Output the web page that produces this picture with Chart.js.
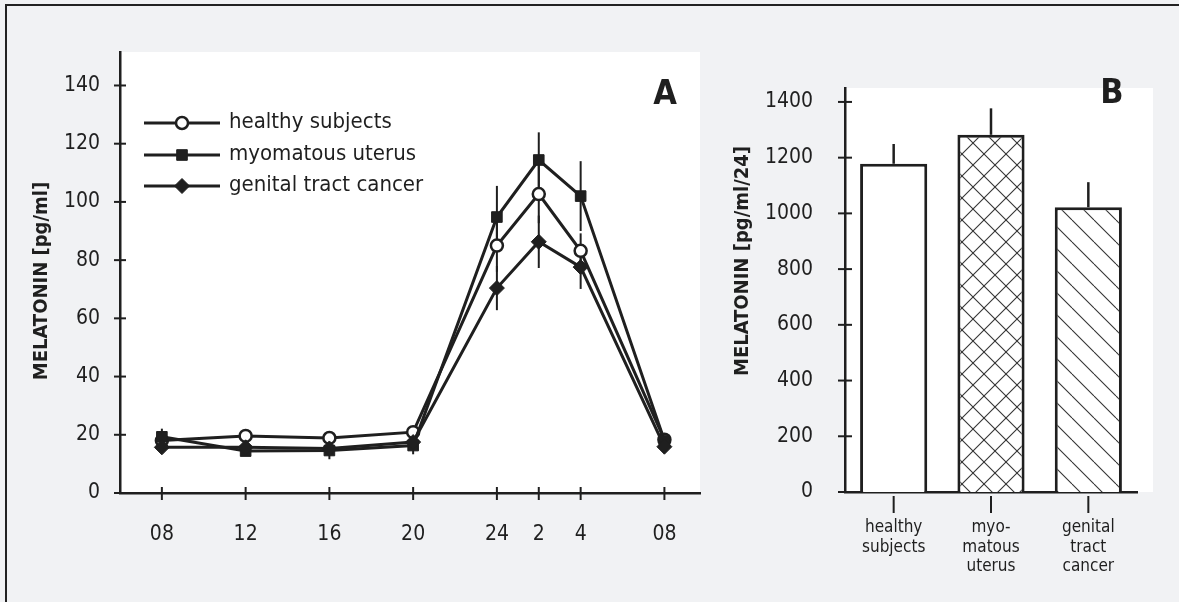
<!DOCTYPE html>
<html>
<head>
<meta charset="utf-8">
<script src="https://cdn.jsdelivr.net/npm/chart.js@4.4.1/dist/chart.umd.min.js"></script>
<style>
  html, body { margin: 0; padding: 0; background: #f1f2f4; overflow: hidden; }
  body { width: 1179px; height: 602px; position: relative; }
  #lineTop { position: absolute; left: 5px; top: 4px; width: 1174px; height: 2px; background: #222; }
  #lineLeft { position: absolute; left: 5px; top: 4px; width: 2px; height: 598px; background: #222; }
  #wrapA { position: absolute; left: 0; top: 0; width: 720px; height: 602px; }
  #wrapB { position: absolute; left: 720px; top: 0; width: 459px; height: 602px; }
</style>
</head>
<body>
<div id="lineTop"></div>
<div id="lineLeft"></div>
<div id="wrapA"><canvas id="chartA" width="720" height="602"></canvas></div>
<div id="wrapB"><canvas id="chartB" width="459" height="602"></canvas></div>
<script>
// ---- data, panel A (time course) ----
const hours = [8, 12, 16, 20, 24, 26, 28, 32];
const hourLabels = ['08', '12', '16', '20', '24', '2', '4', '08'];
const seriesNames = ['healthy subjects', 'myomatous uterus', 'genital tract cancer'];
const healthy = [18.0, 19.6, 18.9, 20.9, 85.0, 102.7, 83.2, 18.3];
const healthyErr = [1.5, 0, 0, 0, 9, 10, 6, 1];
const myomatous = [19.3, 14.4, 14.6, 16.3, 94.8, 114.4, 102.0, 18.0];
const myomatousErr = [2.8, 0, 3, 3, 10.7, 9.5, 12, 1];
const cancer = [15.7, 15.7, 15.3, 17.5, 70.4, 86.3, 77.6, 15.9];
const cancerErr = [0, 0, 0, 0, 7.6, 9, 7.5, 0];
const yTicksA = [0, 20, 40, 60, 80, 100, 120, 140];

// ---- data, panel B (24h totals) ----
const groups = [['healthy', 'subjects'], ['myo-', 'matous', 'uterus'], ['genital', 'tract', 'cancer']];
const totals = [1178, 1282, 1022];
const totalsErr = [71, 95, 90];
const yTicksB = [0, 200, 400, 600, 800, 1000, 1200, 1400];

const ink = '#1f1f1f';
const FONT = '"DejaVu Sans Condensed", "Liberation Sans Narrow", "DejaVu Sans", sans-serif';
Chart.defaults.font.family = FONT;
Chart.defaults.color = ink;
Chart.defaults.animation = false;

function makePattern(kind) {
  const c = document.createElement('canvas');
  c.width = 22; c.height = 22;
  const g = c.getContext('2d');
  g.fillStyle = '#fff';
  g.fillRect(0, 0, 22, 22);
  g.strokeStyle = '#333';
  g.lineWidth = 1.1;
  for (const k of [-22, 0, 22]) {
    g.beginPath(); g.moveTo(k, 0); g.lineTo(k + 22, 22); g.stroke();
    if (kind === 'cross') {
      g.beginPath(); g.moveTo(k + 22, 0); g.lineTo(k, 22); g.stroke();
    }
  }
  return g.createPattern(c, 'repeat');
}

function toXY(vals) {
  return vals.map((v, i) => ({ x: hours[i], y: v }));
}

function rotatedTitle(ctx, text, x, y) {
  ctx.save();
  ctx.translate(x, y);
  ctx.rotate(-Math.PI / 2);
  ctx.font = 'bold 20px ' + FONT;
  ctx.fillStyle = ink;
  ctx.textAlign = 'center';
  ctx.textBaseline = 'middle';
  ctx.fillText(text, 0, 0);
  ctx.restore();
}

function panelLetter(ctx, text, x, y) {
  ctx.save();
  ctx.font = 'bold 34px ' + FONT;
  ctx.fillStyle = ink;
  ctx.textAlign = 'center';
  ctx.textBaseline = 'middle';
  ctx.fillText(text, x, y);
  ctx.restore();
}

const panelA = {
  id: 'panelA',
  beforeDraw(chart) {
    const { ctx, chartArea: a } = chart;
    ctx.save();
    ctx.fillStyle = '#fff';
    ctx.fillRect(a.left, a.top, a.right - a.left, a.bottom - a.top);
    ctx.restore();
  },
  beforeDatasetsDraw(chart) {
    const { ctx } = chart;
    const y = chart.scales.y;
    ctx.save();
    ctx.strokeStyle = ink;
    ctx.lineWidth = 2;
    chart.data.datasets.forEach((ds, i) => {
      const meta = chart.getDatasetMeta(i);
      ds.errors.forEach((e, j) => {
        if (!e) return;
        const v = ds.data[j].y;
        const px = meta.data[j].x;
        ctx.beginPath();
        ctx.moveTo(px, y.getPixelForValue(v + e));
        ctx.lineTo(px, y.getPixelForValue(v - e));
        ctx.stroke();
      });
    });
    ctx.restore();
  },
  afterDraw(chart) {
    const { ctx, scales: { x, y } } = chart;
    ctx.save();
    ctx.strokeStyle = ink;
    ctx.lineWidth = 2;
    y.ticks.forEach(t => {
      const py = y.getPixelForValue(t.value);
      ctx.beginPath(); ctx.moveTo(y.right - 6, py); ctx.lineTo(y.right + 6, py); ctx.stroke();
    });
    x.ticks.forEach(t => {
      const px = x.getPixelForValue(t.value);
      ctx.beginPath(); ctx.moveTo(px, x.top - 6); ctx.lineTo(px, x.top + 7); ctx.stroke();
    });
    // legend, one row per series name
    const rows = [123, 155, 186];
    chart.data.datasets.forEach(ds => {
      const ly = rows[seriesNames.indexOf(ds.label)];
      ctx.lineWidth = 3;
      ctx.strokeStyle = ink;
      ctx.beginPath(); ctx.moveTo(144, ly); ctx.lineTo(220, ly); ctx.stroke();
      ctx.fillStyle = ds.pointBackgroundColor;
      ctx.lineWidth = ds.pointBorderWidth;
      Chart.helpers.drawPoint(ctx, { pointStyle: ds.pointStyle, radius: ds.pointRadius, borderWidth: ds.pointBorderWidth }, 182, ly);
      ctx.fillStyle = ink;
      ctx.font = '22px ' + FONT;
      ctx.textAlign = 'left';
      ctx.textBaseline = 'middle';
      ctx.fillText(ds.label, 229, ly - 1);
    });
    ctx.restore();
    rotatedTitle(ctx, 'MELATONIN [pg/ml]', 42, 281);
    panelLetter(ctx, 'A', 665, 95);
  }
};

new Chart(document.getElementById('chartA'), {
  type: 'line',
  data: {
    datasets: [
      { label: seriesNames[2], data: toXY(cancer), errors: cancerErr, borderColor: ink, borderWidth: 3,
        pointStyle: 'rectRot', pointRadius: 7.5, pointBackgroundColor: ink, pointBorderColor: ink, pointBorderWidth: 1 },
      { label: seriesNames[1], data: toXY(myomatous), errors: myomatousErr, borderColor: ink, borderWidth: 3,
        pointStyle: 'rect', pointRadius: 7.5, pointBackgroundColor: ink, pointBorderColor: ink, pointBorderWidth: 1 },
      { label: seriesNames[0], data: toXY(healthy), errors: healthyErr, borderColor: ink, borderWidth: 3,
        pointStyle: 'circle', pointRadius: 6, pointBackgroundColor: '#fff', pointBorderColor: ink, pointBorderWidth: 2.5 }
    ]
  },
  options: {
    responsive: false,
    layout: { padding: { top: 52, right: 20, left: 0, bottom: 0 } },
    plugins: { legend: { display: false }, tooltip: { enabled: false } },
    scales: {
      x: {
        type: 'linear', min: 6, max: 33.7,
        afterBuildTicks: s => { s.ticks = hours.map(v => ({ value: v })); },
        afterFit: s => { s.height = 109; },
        grid: { display: false, drawTicks: false },
        border: { display: true, color: ink, width: 2.5 },
        ticks: { autoSkip: false, maxRotation: 0, padding: 29, font: { size: 21 }, color: ink,
                 callback: (v, i) => hourLabels[i] }
      },
      y: {
        min: 0, max: 151.5,
        afterBuildTicks: s => { s.ticks = yTicksA.map(v => ({ value: v })); },
        afterFit: s => { s.width = 120; },
        grid: { display: false, drawTicks: false },
        border: { display: true, color: ink, width: 2.5 },
        ticks: { padding: 20, font: { size: 21 }, color: ink, callback: v => String(v) }
      }
    }
  },
  plugins: [panelA]
});

const panelB = {
  id: 'panelB',
  beforeDraw(chart) {
    const { ctx, chartArea: a } = chart;
    ctx.save();
    ctx.fillStyle = '#fff';
    ctx.fillRect(a.left, a.top, a.right - a.left + 16, a.bottom - a.top);
    ctx.restore();
  },
  afterDatasetsDraw(chart) {
    const { ctx } = chart;
    const y = chart.scales.y;
    const meta = chart.getDatasetMeta(0);
    ctx.save();
    ctx.strokeStyle = ink;
    ctx.lineWidth = 2.5;
    totals.forEach((v, j) => {
      const px = meta.data[j].x;
      ctx.beginPath();
      ctx.moveTo(px, y.getPixelForValue(v));
      ctx.lineTo(px, y.getPixelForValue(v + totalsErr[j]));
      ctx.stroke();
    });
    ctx.restore();
  },
  afterDraw(chart) {
    const { ctx, scales: { x, y } } = chart;
    ctx.save();
    ctx.strokeStyle = ink;
    ctx.lineWidth = 2;
    y.ticks.forEach(t => {
      const py = y.getPixelForValue(t.value);
      ctx.beginPath(); ctx.moveTo(y.right - 7, py); ctx.lineTo(y.right + 7, py); ctx.stroke();
    });
    groups.forEach((g, i) => {
      const px = x.getPixelForValue(i);
      ctx.beginPath(); ctx.moveTo(px, x.top + 4); ctx.lineTo(px, x.top + 21); ctx.stroke();
    });
    ctx.restore();
    rotatedTitle(ctx, 'MELATONIN [pg/ml/24]', 23, 261);
    panelLetter(ctx, 'B', 392, 94);
  }
};

new Chart(document.getElementById('chartB'), {
  type: 'bar',
  data: {
    labels: groups,
    datasets: [{
      data: totals,
      backgroundColor: ['#fff', makePattern('cross'), makePattern('diag')],
      borderColor: ink,
      borderWidth: 3,
      categoryPercentage: 1,
      barPercentage: 0.69
    }]
  },
  options: {
    responsive: false,
    layout: { padding: { top: 88, right: 42, left: 0, bottom: 0 } },
    plugins: { legend: { display: false }, tooltip: { enabled: false } },
    scales: {
      x: {
        afterFit: s => { s.height = 110; },
        grid: { display: false, drawTicks: false },
        border: { display: true, color: ink, width: 2.5 },
        ticks: { autoSkip: false, maxRotation: 0, padding: 26, color: ink,
                 font: { size: 17, lineHeight: 1.15 } }
      },
      y: {
        min: 0, max: 1450,
        afterBuildTicks: s => { s.ticks = yTicksB.map(v => ({ value: v })); },
        afterFit: s => { s.width = 125; },
        grid: { display: false, drawTicks: false },
        border: { display: true, color: ink, width: 2.5 },
        ticks: { padding: 32, font: { size: 21 }, color: ink, callback: v => String(v) }
      }
    }
  },
  plugins: [panelB]
});
</script>
</body>
</html>
